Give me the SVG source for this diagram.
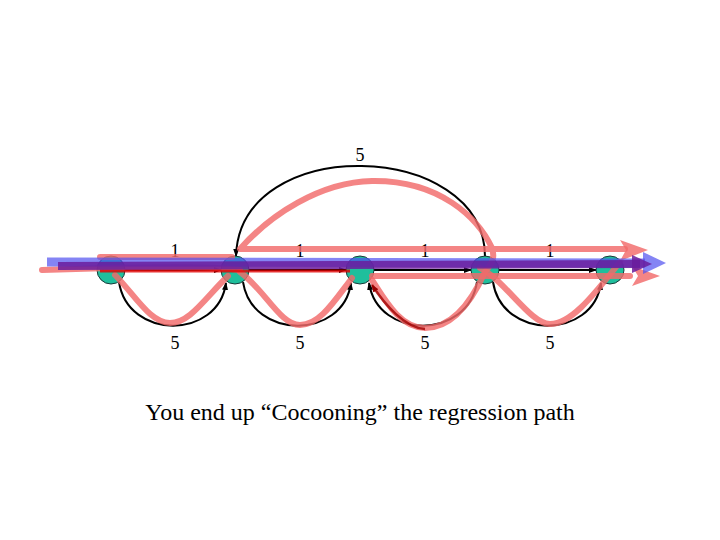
<svg xmlns="http://www.w3.org/2000/svg" width="720" height="540" viewBox="0 0 720 540">
<defs>
<marker id="ah" markerWidth="8" markerHeight="8" refX="7" refY="4" orient="auto" markerUnits="userSpaceOnUse"><path d="M0,1 L8,4 L0,7 Z" fill="#000"/></marker>
<marker id="ahr" markerWidth="8" markerHeight="8" refX="7" refY="4" orient="auto" markerUnits="userSpaceOnUse"><path d="M0,1 L8,4 L0,7 Z" fill="#900"/></marker>
<style>
.e{fill:none;stroke:#000;stroke-width:2}
.n{fill:#1fbf9c;stroke:#1a3a3a;stroke-width:1}
.lb{font-family:"Liberation Serif",serif;font-size:18px;fill:#000;text-anchor:middle}
.pk{fill:none;stroke:#f26a6a;stroke-opacity:0.82;stroke-width:6;stroke-linecap:round;stroke-linejoin:round}
.pkh{fill:#f26a6a;fill-opacity:0.82}
</style>
</defs>
<rect width="720" height="540" fill="#fff"/>
<g id="connectors">
<line class="e" x1="125" y1="270" x2="221" y2="270" marker-end="url(#ah)"/>
<line class="e" x1="249" y1="270" x2="346" y2="270" marker-end="url(#ah)"/>
<line class="e" x1="374" y1="270" x2="471" y2="270" marker-end="url(#ah)"/>
<line class="e" x1="499" y1="270" x2="596" y2="270" marker-end="url(#ah)"/>
<path class="e" d="M119,282 C128,340 218,340 226,283" marker-end="url(#ah)"/>
<path class="e" d="M243,282 C252,340 343,340 351,283" marker-end="url(#ah)"/>
<path class="e" d="M477,282 C468,340 378,340 369,283" marker-end="url(#ah)"/>
<path class="e" d="M493,282 C502,340 593,340 601,283" marker-end="url(#ah)"/>
<path class="e" d="M485,256 C484,140 240,132 236,256" marker-end="url(#ah)"/>
</g>
<g id="labels">
<text class="lb" x="175" y="257">1</text>
<text class="lb" x="300" y="257">1</text>
<text class="lb" x="425" y="257">1</text>
<text class="lb" x="550" y="257">1</text>
<text class="lb" x="175" y="349">5</text>
<text class="lb" x="300" y="349">5</text>
<text class="lb" x="425" y="349">5</text>
<text class="lb" x="550" y="349">5</text>
<text class="lb" x="360" y="161">5</text>
</g>
<g id="node1"><circle class="n" cx="111" cy="270" r="14"/></g>
<g id="node2"><circle class="n" cx="235" cy="270" r="14"/></g>
<g id="node3"><circle class="n" cx="360" cy="270" r="14"/></g>
<g id="node4"><circle class="n" cx="485" cy="270" r="14"/></g>
<g id="node5"><circle class="n" cx="610" cy="270" r="14"/></g>
<g id="overlays">
<path class="pk" d="M42,270 L110,268 C200,266 230,268 240,270"/>
<path class="pk" d="M100,257 L232,257"/>
<path class="pk" d="M115,275 C135,295 150,323 170,323 C190,323 205,298 228,276"/>
<path class="pk" d="M240,272 C265,290 280,325 300,325 C320,325 335,300 352,278"/>
<path class="pk" d="M372,280 C385,300 400,328 425,328 C450,328 470,305 485,272 C493,262 495,258 492,248 C478,218 440,180 372,181 C320,182 270,215 240,249 L625,249"/>
<path class="pk" d="M480,268 C505,280 530,324 550,324 C570,324 590,300 620,262"/>
<path class="pk" d="M372,276 L630,276"/>
<path class="pkh" d="M620,240 L648,250 L620,261 L626,250 Z"/>
<path class="pkh" d="M632,266 L660,276 L632,286 L638,276 Z"/>
<path fill="none" stroke="#e00000" stroke-opacity="0.8" stroke-width="3" d="M100,271 L350,271"/>
<path fill="none" stroke="#a00000" stroke-opacity="0.8" stroke-width="2.5" d="M425,329 C405,328 385,305 372,285" marker-end="url(#ahr)"/>
<path fill="none" stroke="#5050f0" stroke-opacity="0.7" stroke-width="9" d="M47,262 L645,263"/>
<path fill="#5050f0" fill-opacity="0.7" d="M643,252 L666,263 L643,274 Z"/>
<path fill="none" stroke="#6a1c9c" stroke-opacity="0.85" stroke-width="8" d="M58,266 C150,264 300,266 640,264"/>
<path fill="#6a1c9c" fill-opacity="0.85" d="M632,255 L652,264 L632,273 Z"/>
</g>
<text x="360" y="420" font-family="Liberation Serif, serif" font-size="24" text-anchor="middle" fill="#000">You end up “Cocooning” the regression path</text>
</svg>
